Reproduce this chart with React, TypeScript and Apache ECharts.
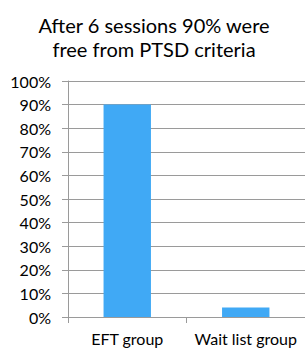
import React, { useEffect, useRef } from "react";
import * as echarts from "echarts";

const categories = ["EFT group", "Wait list group"];
const values = [90, 4];
const titleLines = ["After 6 sessions 90% were", "free from PTSD criteria"];

export default function App() {
  const ref = useRef<HTMLDivElement>(null);
  useEffect(() => {
    if (!ref.current) return;
    const chart = echarts.init(ref.current, null, { renderer: "svg" });
    const font = "Lato";
    chart.setOption({
      animation: false,
      backgroundColor: "#ffffff",
      title: {
        text: titleLines.join("\n"),
        left: 149,
        top: 8,
        textAlign: "center",
        textStyle: {
          fontFamily: font,
          fontSize: 20,
          fontWeight: "normal",
          color: "#000000",
          lineHeight: 24,
        },
      },
      grid: { left: 68, right: 0, top: 81, bottom: 33, containLabel: false },
      xAxis: {
        type: "category",
        data: categories,
        axisLine: { show: true, lineStyle: { color: "#9a9a9a", width: 1 } },
        axisTick: { show: true, length: 6, alignWithLabel: false, lineStyle: { color: "#9a9a9a" } },
        axisLabel: { fontFamily: font, fontSize: 16, color: "#000000", margin: 13, interval: 0 },
      },
      yAxis: {
        type: "value",
        min: 0,
        max: 100,
        interval: 10,
        axisLine: { show: true, lineStyle: { color: "#9a9a9a", width: 1 } },
        axisTick: { show: true, length: 6, lineStyle: { color: "#9a9a9a" } },
        axisLabel: {
          fontFamily: font,
          fontSize: 16,
          color: "#000000",
          margin: 17,
          formatter: (v: number) => v + "%",
        },
        splitLine: { show: true, lineStyle: { color: "#9a9a9a", width: 1 } },
      },
      series: [
        {
          type: "bar",
          data: values,
          barWidth: "40%",
          itemStyle: { color: "#40a9f5" },
        },
      ],
    });
    return () => chart.dispose();
  }, []);
  return (
    <div
      ref={ref}
      style={{ position: "absolute", left: 0, top: 0, width: 305, height: 350 }}
    />
  );
}
